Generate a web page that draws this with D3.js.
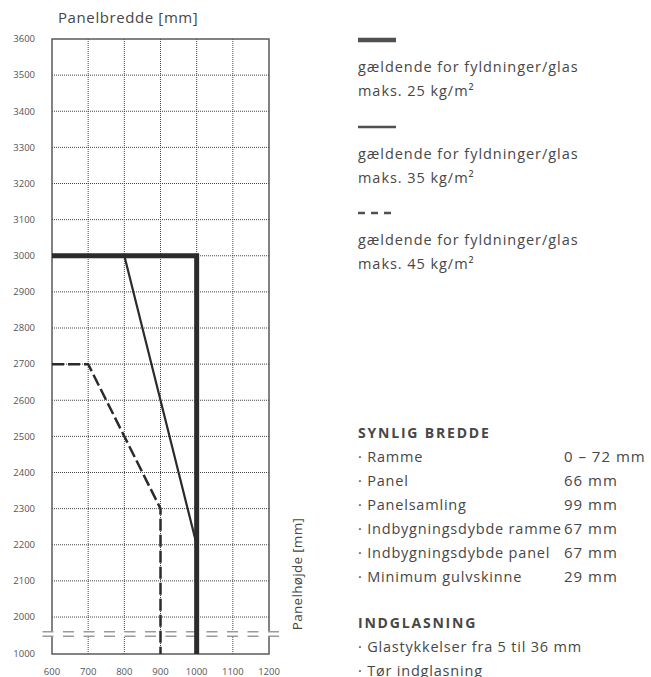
<!DOCTYPE html>
<html>
<head>
<meta charset="utf-8">
<script src="https://cdn.jsdelivr.net/npm/d3@7"></script>
<style>
  html, body { margin: 0; padding: 0; background: #fff; }
  svg { display: block; font-family: "Open Sans", sans-serif; }
</style>
</head>
<body>
<svg id="chart" width="651" height="677"></svg>
<script>
// ---- data ----
const xTicks = [600, 700, 800, 900, 1000, 1100, 1200];
const yTicks = [1000, 2000, 2100, 2200, 2300, 2400, 2500, 2600, 2700, 2800, 2900, 3000, 3100, 3200, 3300, 3400, 3500, 3600];
const series25 = [[600, 3000], [1000, 3000], [1000, 1000]];
const series35 = [[800, 3000], [1000, 2200], [1000, 1000]];
const series45 = [[600, 2700], [700, 2700], [900, 2300], [900, 1000]];
const legendLine1 = ["gældende for fyldninger/glas", "gældende for fyldninger/glas", "gældende for fyldninger/glas"];
const legendLine2 = ["maks. 25 kg/m²", "maks. 35 kg/m²", "maks. 45 kg/m²"];
const xTitle = "Panelbredde [mm]";
const yTitle = "Panelhøjde [mm]";
const section1Title = "SYNLIG BREDDE";
const section1Items = ["Ramme", "Panel", "Panelsamling", "Indbygningsdybde ramme", "Indbygningsdybde panel", "Minimum gulvskinne"];
const section1Values = ["0 – 72 mm", "66 mm", "99 mm", "67 mm", "67 mm", "29 mm"];
const section2Title = "INDGLASNING";
const section2Items = ["Glastykkelser fra 5 til 36 mm", "Tør indglasning"];

// ---- layout ----
const svg = d3.select("#chart");
const x = d3.scaleLinear().domain([600, 1200]).range([52, 269]);
const y = d3.scaleLinear().domain([1000, 2000, 3600]).range([654, 617, 39]);
const ink = "#2b2b2b";
const textCol = "#474747";

// grid
const g = svg.append("g");
g.selectAll(".hg").data(yTicks.filter(d => d > 1000 && d < 3600)).join("line")
  .attr("x1", x(600)).attr("x2", x(1200))
  .attr("y1", d => y(d)).attr("y2", d => y(d))
  .attr("stroke", "#444").attr("stroke-width", 1).attr("stroke-dasharray", "1,1");
g.selectAll(".vg").data(xTicks.filter(d => d > 600 && d < 1200)).join("line")
  .attr("y1", y(1000)).attr("y2", y(3600))
  .attr("x1", d => x(d)).attr("x2", d => x(d))
  .attr("stroke", "#444").attr("stroke-width", 1).attr("stroke-dasharray", "1,1");

// frame
g.append("rect")
  .attr("x", x(600)).attr("y", y(3600))
  .attr("width", x(1200) - x(600)).attr("height", y(1000) - y(3600))
  .attr("fill", "none").attr("stroke", "#5a5a5a").attr("stroke-width", 1.5);

// axis break
const yb = y(1000) - 20;
g.append("rect").attr("x", 40).attr("y", yb - 2.5).attr("width", 242).attr("height", 5).attr("fill", "#fff");
[yb - 2.2, yb + 2.2].forEach(yy => {
  g.append("line").attr("x1", 42.5).attr("x2", 280).attr("y1", yy).attr("y2", yy)
    .attr("stroke", "#9a9a9a").attr("stroke-width", 1.5).attr("stroke-dasharray", "11,9.5");
});

// tick labels
g.selectAll(".yl").data(yTicks).join("text")
  .attr("x", 35).attr("y", d => y(d)).attr("dy", "0.35em")
  .attr("text-anchor", "end").attr("font-size", 9.5).attr("fill", "#555")
  .text(d => d);
g.selectAll(".xl").data(xTicks).join("text")
  .attr("x", d => x(d)).attr("y", 674.5)
  .attr("text-anchor", "middle").attr("font-size", 9.5).attr("fill", "#555")
  .text(d => d);

// titles
svg.append("text").attr("x", 58).attr("y", 23).attr("font-size", 15).attr("letter-spacing", 0.6)
  .attr("fill", textCol).text(xTitle);
svg.append("text").attr("transform", "translate(302,574) rotate(-90)")
  .attr("text-anchor", "middle").attr("font-size", 13.5).attr("letter-spacing", 0.3)
  .attr("fill", textCol).text(yTitle);

// series
const line = d3.line().x(d => x(d[0])).y(d => y(d[1]));
svg.append("path").datum(series45).attr("d", line).attr("fill", "none")
  .attr("stroke", ink).attr("stroke-width", 2.5).attr("stroke-dasharray", "12,4");
svg.append("path").datum(series35).attr("d", line).attr("fill", "none")
  .attr("stroke", ink).attr("stroke-width", 2.2);
svg.append("path").datum(series25).attr("d", line).attr("fill", "none")
  .attr("stroke", ink).attr("stroke-width", 5).attr("stroke-linejoin", "miter");

// legend
const legY = [40, 127, 213];
const legW = [4.7, 2.5, 2.5];
const legDash = [null, null, "7,6"];
legY.forEach((ly, i) => {
  svg.append("line").attr("x1", 358).attr("x2", 396).attr("y1", ly).attr("y2", ly)
    .attr("stroke", "#505050").attr("stroke-width", legW[i])
    .attr("stroke-dasharray", legDash[i]);
  svg.append("text").attr("x", 358).attr("y", ly + 32).attr("font-size", 14.5).attr("letter-spacing", 0.95)
    .attr("fill", textCol).text(legendLine1[i]);
  svg.append("text").attr("x", 358).attr("y", ly + 56).attr("font-size", 14.5).attr("letter-spacing", 0.95)
    .attr("fill", textCol).text(legendLine2[i]);
});

// spec list
svg.append("text").attr("x", 358).attr("y", 438).attr("font-size", 14).attr("font-weight", "bold")
  .attr("fill", textCol).attr("letter-spacing", 1.8).text(section1Title);
section1Items.forEach((t, i) => {
  svg.append("text").attr("x", 358).attr("y", 462 + i * 24).attr("font-size", 14.5).attr("letter-spacing", 0.8)
    .attr("fill", textCol).text("· " + t);
  svg.append("text").attr("x", 564).attr("y", 462 + i * 24).attr("font-size", 15).attr("letter-spacing", 1)
    .attr("fill", textCol).text(section1Values[i]);
});
svg.append("text").attr("x", 358).attr("y", 628).attr("font-size", 14).attr("font-weight", "bold")
  .attr("fill", textCol).attr("letter-spacing", 1.8).text(section2Title);
section2Items.forEach((t, i) => {
  svg.append("text").attr("x", 358).attr("y", 652 + i * 24).attr("font-size", 14.5).attr("letter-spacing", 0.8)
    .attr("fill", textCol).text("· " + t);
});
</script>
</body>
</html>
